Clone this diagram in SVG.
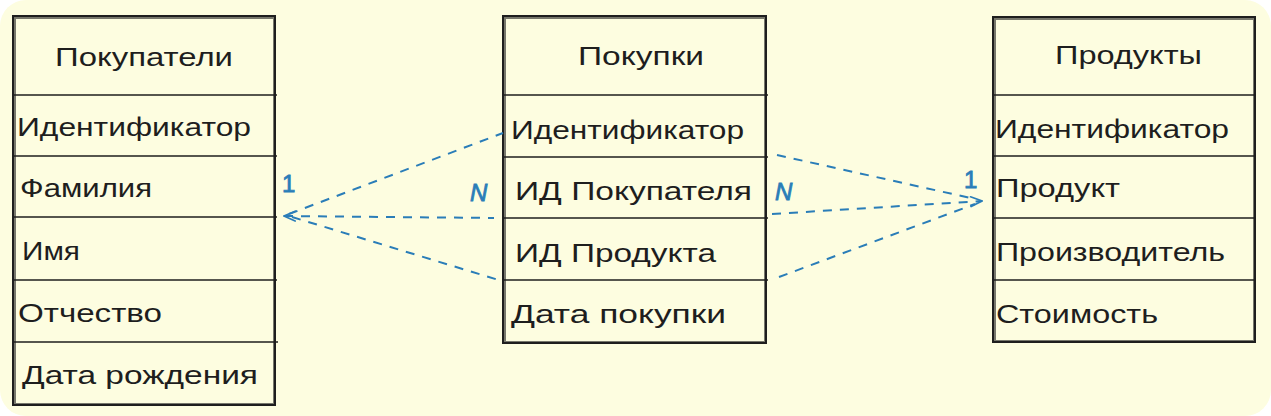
<svg xmlns="http://www.w3.org/2000/svg" width="1271" height="416" viewBox="0 0 1271 416">
<defs>
<style>
.bg{fill:#fdfde0}
.box{fill:none;stroke:#1e1e1e;stroke-width:2}
.sep{stroke:#1e1e1e;stroke-width:1.6}
.t{font-family:"Liberation Sans","Noto Sans",sans-serif;font-size:26px;fill:#1e1e1e}
.conn{fill:none;stroke:#2a7db8;stroke-width:2;stroke-dasharray:9 8}
.lbl{font-family:"Liberation Sans","Noto Sans",sans-serif;font-size:24px;fill:#2a7db8;stroke:#2a7db8;stroke-width:0.8}
</style>
<marker id="arr" viewBox="0 0 20 20" refX="18" refY="10" markerWidth="14" markerHeight="14" markerUnits="userSpaceOnUse" orient="auto-start-reverse">
<path d="M2,3 L18,10 L2,17" fill="none" stroke="#2a7db8" stroke-width="2.4" stroke-linecap="round"/>
</marker>
</defs>
<rect class="bg" x="0" y="0" width="1271" height="416" rx="26"/>

<g id="pokupateli">
<rect class="box" x="13" y="16" width="262" height="389"/>
<rect class="box" x="15" y="18" width="259" height="386" stroke-width="1" opacity="0.6"/>
<line class="sep" x1="13" y1="95" x2="277" y2="95"/>
<line class="sep" x1="13" y1="156" x2="277" y2="156"/>
<line class="sep" x1="13" y1="217" x2="277" y2="217"/>
<line class="sep" x1="13" y1="280" x2="277" y2="280"/>
<line class="sep" x1="13" y1="342" x2="278" y2="342"/>
<text class="t" x="55" y="66" textLength="178" lengthAdjust="spacingAndGlyphs">Покупатели</text>
<text class="t" x="17" y="136" textLength="234" lengthAdjust="spacingAndGlyphs">Идентификатор</text>
<text class="t" x="20" y="197" textLength="132" lengthAdjust="spacingAndGlyphs">Фамилия</text>
<text class="t" x="22" y="260" textLength="58" lengthAdjust="spacingAndGlyphs">Имя</text>
<text class="t" x="18" y="322" textLength="144" lengthAdjust="spacingAndGlyphs">Отчество</text>
<text class="t" x="22" y="384" textLength="236" lengthAdjust="spacingAndGlyphs">Дата рождения</text>
</g>

<g id="pokupki">
<rect class="box" x="503" y="16" width="263" height="327"/>
<rect class="box" x="505" y="18" width="260" height="324" stroke-width="1" opacity="0.6"/>
<line class="sep" x1="503" y1="95" x2="768" y2="95"/>
<line class="sep" x1="503" y1="157" x2="768" y2="157"/>
<line class="sep" x1="503" y1="218" x2="768" y2="218"/>
<line class="sep" x1="503" y1="280" x2="768" y2="280"/>
<text class="t" x="578" y="65" textLength="126" lengthAdjust="spacingAndGlyphs">Покупки</text>
<text class="t" x="511" y="139" textLength="233" lengthAdjust="spacingAndGlyphs">Идентификатор</text>
<text class="t" x="515" y="200" textLength="237" lengthAdjust="spacingAndGlyphs">ИД Покупателя</text>
<text class="t" x="515" y="262" textLength="201" lengthAdjust="spacingAndGlyphs">ИД Продукта</text>
<text class="t" x="511" y="323" textLength="215" lengthAdjust="spacingAndGlyphs">Дата покупки</text>
</g>

<g id="produkty">
<rect class="box" x="993" y="17" width="262" height="325"/>
<rect class="box" x="995" y="19" width="259" height="322" stroke-width="1" opacity="0.6"/>
<line class="sep" x1="992" y1="95" x2="1256" y2="95"/>
<line class="sep" x1="992" y1="156" x2="1256" y2="156"/>
<line class="sep" x1="992" y1="218" x2="1256" y2="218"/>
<line class="sep" x1="992" y1="280" x2="1256" y2="280"/>
<text class="t" x="1055" y="64" textLength="147" lengthAdjust="spacingAndGlyphs">Продукты</text>
<text class="t" x="995" y="138" textLength="234" lengthAdjust="spacingAndGlyphs">Идентификатор</text>
<text class="t" x="996" y="197" textLength="124" lengthAdjust="spacingAndGlyphs">Продукт</text>
<text class="t" x="996" y="261" textLength="229" lengthAdjust="spacingAndGlyphs">Производитель</text>
<text class="t" x="996" y="323" textLength="162" lengthAdjust="spacingAndGlyphs">Стоимость</text>
</g>

<g id="connectors">
<line class="conn" x1="289" y1="214" x2="503" y2="133"/>
<line class="conn" x1="284" y1="216" x2="494" y2="218" marker-start="url(#arr)"/>
<line class="conn" x1="292" y1="217" x2="502" y2="281"/>
<line class="conn" x1="777" y1="155" x2="975" y2="199"/>
<line class="conn" x1="772" y1="214" x2="982" y2="201" marker-end="url(#arr)"/>
<line class="conn" x1="779" y1="277" x2="975" y2="204"/>
<text class="lbl" x="282" y="192">1</text>
<text class="lbl" x="470" y="201" font-style="italic">N</text>
<text class="lbl" x="775" y="200" font-style="italic">N</text>
<text class="lbl" x="964" y="188">1</text>
</g>
</svg>
